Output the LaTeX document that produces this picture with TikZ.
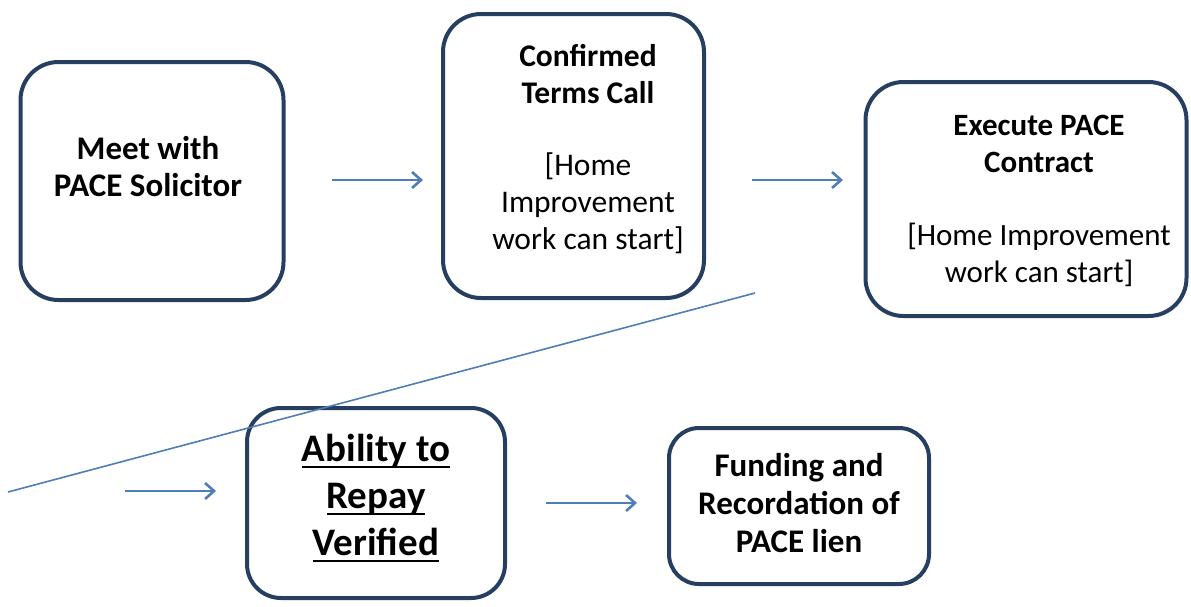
\documentclass[tikz,border=0pt]{standalone}
\usepackage{fontspec}
\setmainfont{Carlito}
\usetikzlibrary{arrows.meta}
\definecolor{boxline}{HTML}{263E60}
\definecolor{arrowblue}{HTML}{4F7DB5}
\newcommand{\wordul}[1]{\setbox0\hbox{#1}\rlap{\rule[-6.5pt]{\wd0}{2.4pt}}\box0}
\tikzset{
  box/.style={draw=boxline, line width=4pt, rounded corners=38pt, fill=white},
  txt/.style={align=center, text=black, inner sep=0pt},
  flow/.style={draw=arrowblue, line width=2.6pt, -{Straight Barb[length=9pt,width=16pt,line width=2.6pt]}},
  thin/.style={draw=arrowblue, line width=1.6pt}
}
\begin{document}
\begin{tikzpicture}[x=1pt,y=-1pt]
\useasboundingbox (0,0) rectangle (1191,606);
% boxes
\node[box, minimum width=263pt, minimum height=238pt] (b1) at (152,181) {};
\node[box, minimum width=261pt, minimum height=284pt] (b2) at (573.5,156) {};
\node[box, minimum width=321pt, minimum height=234pt] (b3) at (1026,199) {};
\node[box, minimum width=258pt, minimum height=190pt, rounded corners=34pt] (b4) at (376,503) {};
\node[box, minimum width=260pt, minimum height=156pt, rounded corners=30pt] (b5) at (799,506) {};
% texts
\node[txt, font=\fontsize{33}{37}\selectfont\bfseries] (t1) at (148,167) {Meet with\\PACE Solicitor};
\node[txt, font=\fontsize{31.5}{37}\selectfont] (t2) at (588,149) {\bfseries Confirmed\\\bfseries Terms Call\\[35pt][Home\\Improvement\\work can start]};
\node[txt, font=\fontsize{31}{37}\selectfont] (t3) at (1039,200.5) {\bfseries Execute PACE\\\bfseries Contract\\[36pt][Home Improvement\\work can start]};
\node[txt, font=\fontsize{39}{47}\selectfont\bfseries] (t4) at (376,498.5) {\wordul{Ability to}\\\wordul{Repay}\\\wordul{Verified}};
\node[txt, font=\fontsize{33}{38}\selectfont\bfseries] (t5) at (799,503) {Funding and\\Recordation of\\PACE lien};
% arrows
\coordinate (a1s) at (332,180); \coordinate (a1e) at (423,180);
\coordinate (a2s) at (752,180); \coordinate (a2e) at (843,180);
\coordinate (a3s) at (125,491); \coordinate (a3e) at (216,491);
\coordinate (a4s) at (546,503); \coordinate (a4e) at (637,503);
\draw[flow] (a1s) -- (a1e);
\draw[flow] (a2s) -- (a2e);
\draw[flow] (a3s) -- (a3e);
\draw[flow] (a4s) -- (a4e);
% diagonal
\coordinate (d1) at (755,293); \coordinate (d2) at (8,492);
\draw[thin] (d1) -- (d2);
\end{tikzpicture}
\end{document}
